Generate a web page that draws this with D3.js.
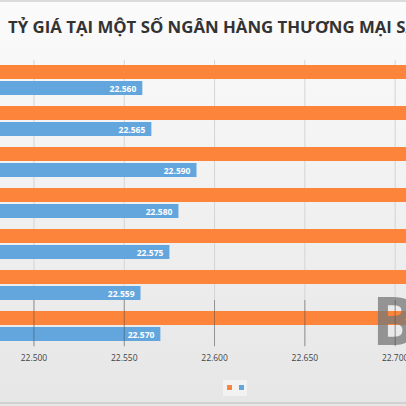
<!DOCTYPE html><html><head><meta charset="utf-8"><script src="https://cdn.jsdelivr.net/npm/d3@7"></script>
<style>body{margin:0}svg{display:block}</style></head><body><script>
const banks=["B1","B2","B3","B4","B5","B6","B7"];
const sellValues=[22.72,22.72,22.72,22.72,22.72,22.72,22.72];
const buyValues=[22.560,22.565,22.590,22.580,22.575,22.559,22.570];
const ticks=[22.5,22.55,22.6,22.65,22.7];
const W=406,H=406;
const svg=d3.select("body").append("svg").attr("width",W).attr("height",H);
const defs=svg.append("defs");
const g=defs.append("linearGradient").attr("id","bg").attr("x1",0).attr("y1",0).attr("x2",0).attr("y2",1);
g.append("stop").attr("offset",0).attr("stop-color","#fbfbfb");
g.append("stop").attr("offset",1).attr("stop-color","#e6e6e6");
svg.append("rect").attr("width",W).attr("height",H).attr("fill","url(#bg)");
svg.append("line").attr("x1",0).attr("x2",W).attr("y1",1).attr("y2",1).attr("stroke","#bbb");
svg.append("line").attr("x1",0).attr("x2",W).attr("y1",403).attr("y2",403).attr("stroke","#bbb");
const x=d3.scaleLinear().domain([22.4812,22.7060]).range([0,W]);
const y=d3.scaleBand().domain(banks).range([60,347]).paddingInner(0).paddingOuter(0);
svg.append("text").attr("x",8).attr("y",33).attr("font-family","Open Sans").attr("font-weight","bold").attr("font-size",16.8).attr("fill","#333").text("TỶ GIÁ TẠI MỘT SỐ NGÂN HÀNG THƯƠNG MẠI SÁNG 24/9");
svg.append("g").selectAll("line").data(ticks).join("line").attr("x1",d=>x(d)).attr("x2",d=>x(d)).attr("y1",60).attr("y2",347).attr("stroke","#d4d4d4");
const bh=14;
svg.append("g").selectAll("rect").data(banks).join("rect").attr("x",0).attr("y",d=>y(d)+5).attr("height",bh).attr("width",(d,i)=>x(sellValues[i])).attr("fill","#fd843b");
svg.append("g").selectAll("rect").data(banks).join("rect").attr("x",0).attr("y",d=>y(d)+21).attr("height",bh).attr("width",(d,i)=>x(buyValues[i])).attr("fill","#62a6dd");
svg.append("g").selectAll("text").data(banks).join("text").attr("x",(d,i)=>x(buyValues[i])-6).attr("y",d=>y(d)+31.5).attr("text-anchor","end").attr("font-family","Open Sans").attr("font-weight","bold").attr("font-size",8.5).attr("fill","#fff").text((d,i)=>d3.format(".3f")(buyValues[i]));
svg.append("text").attr("x",372).attr("y",345).attr("font-family","Open Sans").attr("font-weight","bold").attr("font-size",66).attr("fill","#777").attr("opacity",0.75).text("B");
svg.append("g").selectAll("line").data(ticks).join("line").attr("x1",d=>x(d)).attr("x2",d=>x(d)).attr("y1",300).attr("y2",346).attr("stroke","#444").attr("stroke-width",0.6).attr("opacity",0.8);
svg.append("g").selectAll("text").data(ticks).join("text").attr("x",d=>x(d)).attr("y",361).attr("text-anchor","middle").attr("font-family","Open Sans").attr("font-size",8.5).attr("fill","#444").text(d=>d3.format(".3f")(d));
svg.append("rect").attr("x",223).attr("y",380).attr("width",24).attr("height",16).attr("fill","#f2f2f2");
svg.append("rect").attr("x",227).attr("y",385).attr("width",5).attr("height",5).attr("fill","#fd843b");
svg.append("rect").attr("x",239).attr("y",385).attr("width",5).attr("height",5).attr("fill","#62a6dd");
</script></body></html>
